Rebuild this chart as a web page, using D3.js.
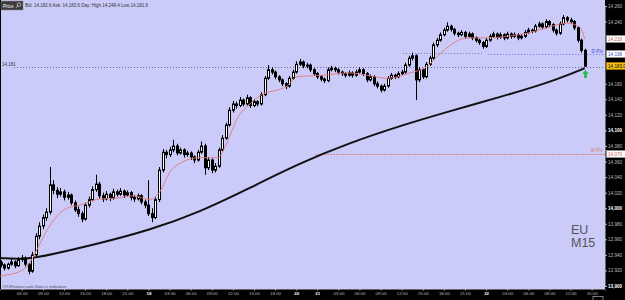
<!DOCTYPE html>
<html>
<head>
<meta charset="utf-8">
<script src="https://cdn.jsdelivr.net/npm/d3@7"></script>
<style>
  html, body { margin: 0; padding: 0; background: #000; }
  svg { display: block; font-family: "Liberation Sans", Arial, sans-serif; }
</style>
</head>
<body>
<div id="chart"></div>
<script>
// EU M15 chart, candles sampled every 30 min, trading hours counted from the 17th 00:00
var firstHour = 3, stepHour = 0.5;

var opens = [
  13930,13927,13923,13928,13931,13926,13934,13936,13928,13919,
  13940,13964,13977,13988,13995,14030,14023,14018,14021,14014,
  14017,14007,13998,13993,13986,14004,14011,14024,14031,14016,
  14012,14018,14013,14021,14018,14022,14017,14020,14014,14012,
  14016,14008,14004,13993,13988,14011,14049,14072,14069,14075,
  14080,14071,14075,14069,14071,14066,14062,14072,14080,14052,
  14062,14049,14054,14075,14090,14107,14126,14134,14132,14139,
  14134,14142,14132,14137,14134,14146,14167,14178,14175,14169,
  14165,14160,14157,14167,14175,14185,14188,14183,14184,14178,
  14173,14169,14166,14164,14178,14180,14178,14175,14173,14171,
  14174,14171,14175,14178,14173,14165,14169,14160,14157,14152,
  14157,14167,14171,14169,14173,14175,14184,14193,14196,14165,
  14178,14169,14185,14193,14210,14216,14223,14229,14234,14230,
  14225,14223,14226,14221,14224,14219,14216,14213,14208,14216,
  14221,14224,14220,14223,14219,14224,14221,14223,14219,14221,
  14226,14229,14228,14234,14237,14233,14240,14236,14229,14225,
  14237,14245,14242,14240,14232,14216,14203];
var highs = [
  13933,13929,13930,13935,13933,13937,13940,13938,13930,13944,
  13968,13982,13992,14000,14053,14036,14027,14026,14024,14021,
  14019,14010,14002,13996,14007,14015,14028,14043,14034,14020,
  14022,14020,14025,14024,14026,14024,14023,14022,14017,14019,
  14018,14011,14036,14000,14014,14053,14076,14075,14079,14088,
  14083,14078,14077,14074,14073,14068,14075,14086,14083,14066,
  14064,14058,14078,14094,14110,14130,14138,14137,14143,14141,
  14146,14144,14140,14139,14149,14170,14184,14181,14177,14171,
  14167,14162,14170,14178,14189,14192,14190,14187,14186,14180,
  14175,14171,14168,14181,14183,14182,14180,14177,14175,14177,
  14176,14178,14181,14180,14175,14172,14171,14163,14159,14160,
  14170,14174,14173,14176,14178,14187,14196,14200,14198,14181,
  14180,14188,14196,14213,14219,14226,14232,14239,14236,14232,
  14227,14229,14228,14227,14226,14221,14218,14215,14219,14224,
  14227,14226,14226,14225,14227,14226,14226,14225,14224,14229,
  14232,14231,14237,14240,14239,14243,14242,14238,14231,14240,
  14248.4,14247,14245,14242,14234,14218,14205];
var lows = [
  13924,13920,13921,13926,13923,13925,13931,13925,13915,13917,
  13938,13960,13973,13984,13992,14018,14013,14015,14010,14011,
  14004,13995,13989,13982,13984,14001,14009,14021,14012,14008,
  14010,14009,14011,14015,14016,14013,14015,14010,14008,14010,
  14005,14000,13990,13982,13986,14008,14046,14064,14066,14072,
  14068,14069,14065,14066,14062,14058,14060,14070,14043,14049,
  14045,14046,14052,14073,14088,14105,14123,14128,14130,14131,
  14132,14129,14130,14131,14132,14144,14165,14172,14166,14162,
  14157,14153,14155,14165,14173,14183,14180,14180,14175,14170,
  14166,14163,14161,14162,14176,14175,14172,14170,14168,14169,
  14168,14169,14173,14170,14162,14163,14157,14154,14149,14150,
  14155,14165,14166,14167,14171,14173,14182,14190,14139,14162,
  14166,14167,14183,14191,14207,14214,14221,14227,14227,14222,
  14220,14221,14218,14219,14216,14213,14210,14205,14206,14214,
  14219,14217,14218,14216,14217,14218,14219,14216,14217,14219,
  14224,14225,14226,14232,14230,14231,14233,14226,14222,14223,
  14235,14239,14237,14229,14213,14200,14181.6];
var closes = [
  13927,13923,13928,13931,13926,13934,13936,13928,13919,13940,
  13964,13977,13988,13995,14030,14023,14018,14021,14014,14017,
  14007,13998,13993,13986,14004,14011,14024,14031,14016,14012,
  14018,14013,14021,14018,14022,14017,14020,14014,14012,14016,
  14008,14004,13993,13988,14011,14049,14072,14069,14075,14080,
  14071,14075,14069,14071,14066,14062,14072,14080,14052,14062,
  14049,14054,14075,14090,14107,14126,14134,14132,14139,14134,
  14142,14132,14137,14134,14146,14167,14178,14175,14169,14165,
  14160,14157,14167,14175,14185,14188,14183,14184,14178,14173,
  14169,14166,14164,14178,14180,14178,14175,14173,14171,14174,
  14171,14175,14178,14173,14165,14169,14160,14157,14152,14157,
  14167,14171,14169,14173,14175,14184,14193,14196,14165,14178,
  14169,14185,14193,14210,14216,14223,14229,14234,14230,14225,
  14223,14226,14221,14224,14219,14216,14213,14208,14216,14221,
  14224,14220,14223,14219,14224,14221,14223,14219,14221,14226,
  14229,14228,14234,14237,14233,14240,14236,14229,14225,14237,
  14245,14242,14240,14232,14216,14203,14182.6];

// red (fast) and black (slow) moving averages
var fastHours = [2.9,5.8,7.2,8.6,10.0,12.4,14.3,17.1,19.5,21.8,24.2,25.6,27.1,28.5,31.3,33.8,35.2,36.6,38.4,40.3,
  42.3,43.7,45.1,48.8,52.6,55.1,57.9,61.2,63.6,65.4,67.3,69.3,72.1,74.9,77.8,80.6,83.5,85.3,86.0];
var fastValues = [13913,13919,13931,13955,13978,14000,14004,14012,14013,14016,14011,14021,14047,14058,14065,14065,14085,14115,14134,14147,
  14152,14157,14169,14171,14174,14171,14167,14174,14182,14198,14212,14219,14219,14221,14225,14232,14238,14233,14218];
var slowHours = [2.9,6.5,10.0,17.1,24.2,31.3,38.4,45.5,52.6,59.8,66.9,74.0,81.1,86.0];
var slowValues = [13936,13934,13940,13955,13972,13995,14026,14058,14084,14106,14125,14143,14162,14180];

// axis ticks
var tickHours = [6,9,12,15,18,21,24,27,30,33,36,39,42,45,48,51,54,57,60,63,66,69,72,75,78,81,84,87];
var tickLabels = ['06:00','09:00','12:00','15:00','18:00','21:00','18','03:00','06:00','09:00','12:00','15:00','18:00','20',
  '21','03:00','06:00','09:00','12:00','15:00','18:00','21:00','22','03:00','06:00','09:00','12:00','15:00'];
var dayLabels = ['18','20','21','22'];
var priceTicks = [13900,13920,13940,13960,13980,14000,14020,14040,14060,14080,14100,14120,14140,14160,14180,14200,14220,14240,14260];

// levels
var dayLow = 14181.6, dayPivot = 14198, prevPivot = 14199, weekPivot = 14070;
var dayPivotFrom = 72.3, prevPivotFrom = 60.2, prevPivotTo = 71.4, weekPivotFrom = 47.7;
var markerLabels = ['14,218', '14,198', '14,183.0', '14,070'];
var markerValues = [14218, 14198, 14183, 14070];
var markerColors = ['#d05a5a', '#4a4ac8', '#000', '#d05a5a'];
var markerFills = ['#fff', '#fff', '#f2c418', '#fff'];
var quoteText = 'Bid: 14,182.6 Ask: 14,183.6 Day: High 14,248.4 Low 14,181.6';

var W = 625, H = 300, plotR = 605, plotB = 289;

var svg = d3.select('#chart').append('svg')
  .attr('width', W)
  .attr('height', H);

svg.append('rect').attr('width', W).attr('height', H).attr('fill', '#000');
svg.append('rect')
  .attr('x', 1).attr('y', 0)
  .attr('width', plotR - 1).attr('height', plotB)
  .attr('fill', '#cbcbfa');

var x = d3.scaleLinear().domain([2.9, 88.9]).range([0, plotR]);
var y = d3.scaleLinear().domain([13900, 14260]).range([286, 6]);

var plot = svg.append('g');

// level lines
function hline(val, h0, h1, color, dash) {
  plot.append('line')
    .attr('x1', h0 == null ? 14 : x(h0)).attr('x2', h1 == null ? plotR : x(h1))
    .attr('y1', Math.round(y(val)) + 0.5).attr('y2', Math.round(y(val)) + 0.5)
    .attr('stroke', color).attr('stroke-width', 1)
    .attr('stroke-dasharray', dash);
}
hline(dayLow, null, null, '#6a6a9a', '1,2');
hline(prevPivot, prevPivotFrom, prevPivotTo, '#7878a8', '1,2');
hline(dayPivot, dayPivotFrom, null, '#6a6ad8', '1,2');
hline(weekPivot, weekPivotFrom, null, '#e08080', '2,1');

plot.append('text')
  .attr('x', 2).attr('y', y(dayLow) - 1)
  .attr('font-size', 4.5).attr('fill', '#334')
  .text('14,181');
plot.append('text')
  .attr('x', plotR - 2).attr('y', y(dayPivot) - 1.5)
  .attr('text-anchor', 'end').attr('font-size', 4.8).attr('fill', '#4a4ac8')
  .text('D Piv');
plot.append('text')
  .attr('x', plotR - 2).attr('y', y(weekPivot) - 1.5)
  .attr('text-anchor', 'end').attr('font-size', 4.8).attr('fill', '#e07070')
  .text('W Piv');

// moving averages
var lineFast = d3.line()
  .x(function(d, i) { return x(fastHours[i]); })
  .y(function(d) { return y(d); })
  .curve(d3.curveMonotoneX);
var lineSlow = d3.line()
  .x(function(d, i) { return x(slowHours[i]); })
  .y(function(d) { return y(d); })
  .curve(d3.curveBasis);

plot.append('path')
  .datum(slowValues)
  .attr('d', lineSlow)
  .attr('fill', 'none')
  .attr('stroke', '#111')
  .attr('stroke-width', 2);

// candles
function cx(i) { return Math.round(x(firstHour + i * stepHour)); }

var candles = plot.append('g');
candles.selectAll('line')
  .data(closes)
  .join('line')
  .attr('x1', function(d, i) { return cx(i) + 0.5; })
  .attr('x2', function(d, i) { return cx(i) + 0.5; })
  .attr('y1', function(d, i) { return y(highs[i]); })
  .attr('y2', function(d, i) { return y(lows[i]); })
  .attr('stroke', '#000')
  .attr('stroke-width', 1);
candles.selectAll('rect')
  .data(closes)
  .join('rect')
  .attr('x', function(d, i) { return cx(i) - 0.5; })
  .attr('width', 2)
  .attr('y', function(d, i) { return y(Math.max(opens[i], d)); })
  .attr('height', function(d, i) { return Math.max(1, Math.abs(y(opens[i]) - y(d))); })
  .attr('fill', function(d, i) { return d >= opens[i] ? '#fff' : '#000'; })
  .attr('stroke', '#000')
  .attr('stroke-width', 1);

plot.append('path')
  .datum(fastValues)
  .attr('d', lineFast)
  .attr('fill', 'none')
  .attr('stroke', '#e07878')
  .attr('stroke-width', 0.9);

// green arrow under the last bar
var last = closes.length - 1;
var ax = cx(last) + 0.5, ay = y(lows[last]) + 3;
plot.append('path')
  .attr('d', 'M' + ax + ',' + ay + 'l3.2,4h-1.8v4h-2.8v-4h-1.8z')
  .attr('fill', '#22c040');

// EU M15
plot.append('text').attr('x', 571).attr('y', 234)
  .attr('font-size', 12.5).attr('fill', '#555').text('EU');
plot.append('text').attr('x', 571).attr('y', 247)
  .attr('font-size', 12.5).attr('fill', '#555').text('M15');

// header
svg.append('rect').attr('x', 1).attr('y', 1).attr('width', 22).attr('height', 9)
  .attr('fill', '#3c3c3c').attr('stroke', '#888').attr('stroke-width', 0.5);
svg.append('text').attr('x', 3).attr('y', 7.6)
  .attr('font-size', 4.6).attr('fill', '#fff').text('Price');
svg.append('circle').attr('cx', 19).attr('cy', 4.6).attr('r', 1.8)
  .attr('fill', 'none').attr('stroke', '#ddd').attr('stroke-width', 0.7);
svg.append('line').attr('x1', 17.8).attr('y1', 5.8).attr('x2', 16).attr('y2', 7.8)
  .attr('stroke', '#ddd').attr('stroke-width', 0.9);
svg.append('text').attr('x', 25).attr('y', 7.4)
  .attr('font-size', 4.5).attr('fill', '#333').text(quoteText);

svg.append('text').attr('x', 2).attr('y', plotB - 1.5)
  .attr('font-size', 4.2).attr('font-style', 'italic').attr('fill', '#445')
  .text('\u00a9IT-Finance.com  Data is indicative');

// right axis; ticks hidden behind a price marker are left out
var shownTicks = priceTicks.filter(function(t) {
  return markerValues.every(function(v) { return Math.abs(y(t) - y(v)) > 5; });
});
var yAxis = svg.append('g')
  .attr('transform', 'translate(' + plotR + ',0)')
  .call(d3.axisRight(y).tickValues(shownTicks).tickSize(2).tickFormat(d3.format(',')));
yAxis.select('.domain').attr('stroke', '#666');
yAxis.selectAll('.tick line').attr('stroke', '#bbb');
yAxis.selectAll('.tick text')
  .attr('x', 3)
  .attr('font-size', 4.6)
  .attr('font-family', '"Liberation Sans", Arial, sans-serif')
  .attr('fill', function(d) { return d % 100 === 0 ? '#fff' : '#bbb'; })
  .attr('font-weight', function(d) { return d % 100 === 0 ? 'bold' : 'normal'; });

// price markers on the axis
var markers = svg.append('g');
markerValues.forEach(function(v, i) {
  var my = Math.round(y(v));
  markers.append('rect')
    .attr('x', plotR + 1.5).attr('y', my - 3.5)
    .attr('width', 20).attr('height', 7)
    .attr('fill', markerFills[i]).attr('stroke', i === 2 ? '#c08000' : '#999').attr('stroke-width', 0.5);
  markers.append('text')
    .attr('x', plotR + 3).attr('y', my + 1.7)
    .attr('font-size', 4.6).attr('fill', markerColors[i])
    .text(markerLabels[i]);
});

// bottom axis
var xAxis = svg.append('g')
  .attr('transform', 'translate(0,' + plotB + ')')
  .call(d3.axisBottom(x).tickValues(tickHours).tickSize(1.5)
    .tickFormat(function(d, i) { return tickLabels[i]; }));
xAxis.select('.domain').attr('stroke', '#666');
xAxis.selectAll('.tick line').attr('stroke', '#bbb');
xAxis.selectAll('.tick text')
  .attr('y', 3)
  .attr('font-size', 4.4)
  .attr('font-family', '"Liberation Sans", Arial, sans-serif')
  .attr('fill', function(d, i) { return dayLabels.indexOf(tickLabels[i]) >= 0 ? '#fff' : '#bbb'; })
  .attr('font-weight', function(d, i) { return dayLabels.indexOf(tickLabels[i]) >= 0 ? 'bold' : 'normal'; });

// current time marker on the time axis
svg.append('rect')
  .attr('x', cx(last) + 8).attr('y', plotB + 7.5)
  .attr('width', 10).attr('height', 5)
  .attr('fill', 'none').attr('stroke', '#ccc').attr('stroke-width', 0.6);
</script>
</body>
</html>
